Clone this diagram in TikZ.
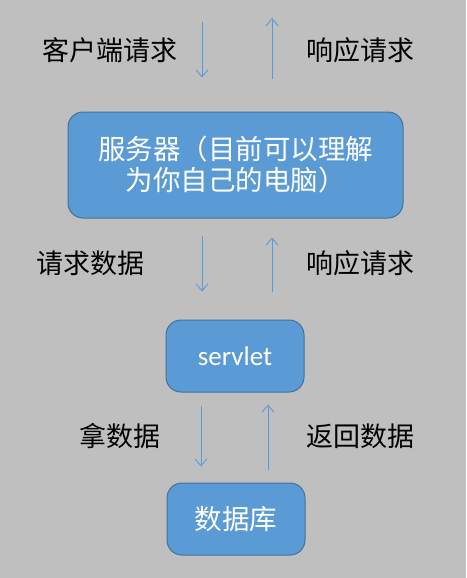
\documentclass[tikz,border=0pt]{standalone}
\usepackage{fontspec}
\setmainfont{Noto Sans CJK SC}
\newfontfamily\latinfont{Carlito}
\usetikzlibrary{arrows.meta,positioning}
\definecolor{boxblue}{HTML}{5B9BD5}
\definecolor{boxedge}{HTML}{41719C}
\definecolor{bggray}{HTML}{BFBFBF}
\tikzset{
  box/.style={draw=boxedge, line width=1pt, fill=boxblue, rounded corners=15pt,
    text=white, font=\fontsize{27.5}{31}\selectfont, align=center, inner sep=0pt},
  lbl/.style={font=\fontsize{27}{30}\selectfont, text=black},
  flow/.style={->, draw=boxblue, line width=0.9pt},
}
\begin{document}
\begin{tikzpicture}[x=1pt, y=-1pt, >={Straight Barb[length=7pt,width=12pt]}]
  % Hintergrund
  \fill[bggray] (0,0) rectangle (466,578);
  \useasboundingbox (0,0) rectangle (466,578);
  % Kaesten
  \node[box, minimum width=335pt, minimum height=106pt] (server) at (235.5,165)
    {服务器（目前可以理解\\为你自己的电脑）};
  \node[box, minimum width=138pt, minimum height=72pt,
    font=\latinfont\fontsize{27}{31}\selectfont] (servlet) at (235,356) {servlet};
  \node[box, minimum width=138pt, minimum height=72pt] (db) at (236,519) {数据库};
  % Beschriftungen
  \node[lbl] (req) at (110,50) {客户端请求};
  \node[lbl] (resp) at (360,50) {响应请求};
  \node[lbl] (reqdata) at (90,263) {请求数据};
  \node[lbl] (resp2) at (360,263) {响应请求};
  \node[lbl] (getdata) at (120,436) {拿数据};
  \node[lbl] (backdata) at (360,436) {返回数据};
  % Pfeile oben
  \coordinate (cin) at (202,22);
  \coordinate (cout) at (272,18);
  \draw[flow] (cin) -- ([xshift=-33.5pt,yshift=34pt]server.north);
  \draw[flow] ([xshift=36.5pt,yshift=33pt]server.north) -- (cout);
  % Pfeile zwischen server und servlet
  \draw[flow] ([xshift=-33.5pt,yshift=-17pt]server.south) -- ([xshift=-33pt,yshift=28pt]servlet.north);
  \draw[flow] ([xshift=37pt,yshift=28pt]servlet.north) -- ([xshift=36.5pt,yshift=-19pt]server.south);
  % Pfeile zwischen servlet und db
  \draw[flow] ([xshift=-34pt,yshift=-13pt]servlet.south) -- ([xshift=-35pt,yshift=16pt]db.north);
  \draw[flow] ([xshift=32pt,yshift=13pt]db.north) -- ([xshift=33pt,yshift=-12pt]servlet.south);
\end{tikzpicture}
\end{document}
